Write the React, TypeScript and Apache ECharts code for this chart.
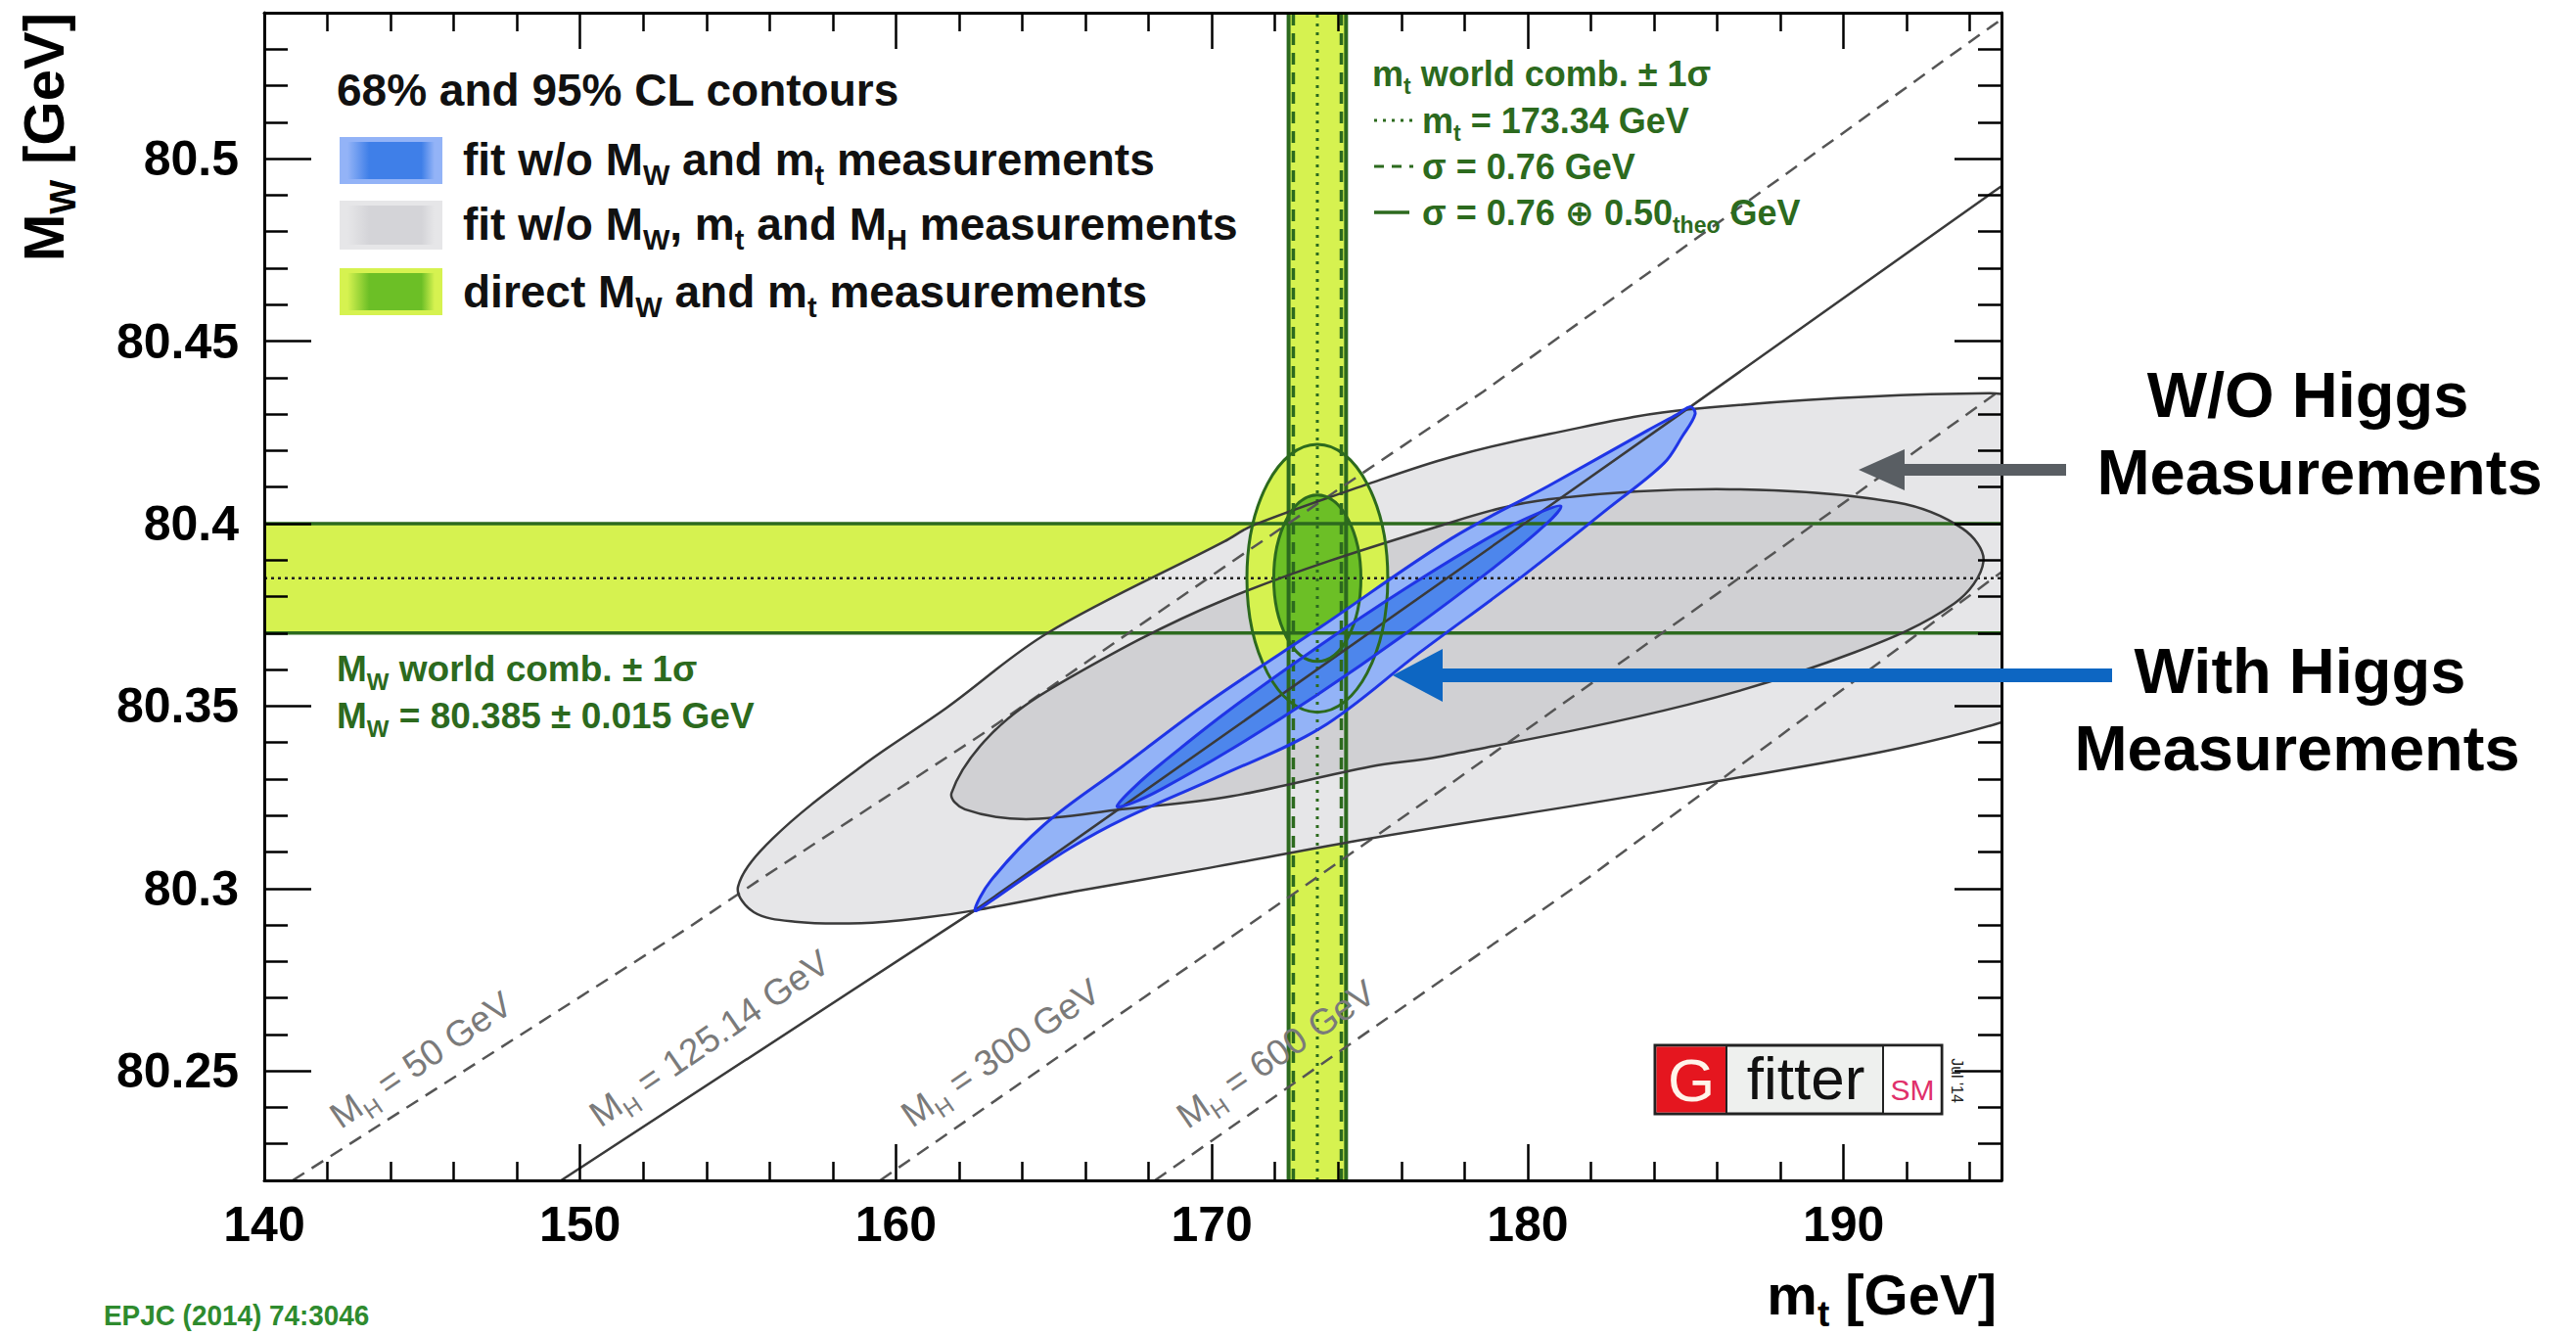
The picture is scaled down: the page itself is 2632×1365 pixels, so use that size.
import React, { useEffect, useRef } from "react";
import * as echarts from "echarts";

const FONT = "'Liberation Sans', Arial, Helvetica, 'DejaVu Sans', sans-serif";

// ---------------- axes ----------------
const X_RANGE = [140, 195];
const Y_RANGE = [80.22, 80.54];
const X_MAJOR = [140, 150, 160, 170, 180, 190];
const X_MINOR = [142, 144, 146, 148, 152, 154, 156, 158, 162, 164, 166, 168, 172, 174, 176, 178, 182, 184, 186, 188, 192, 194];
const Y_MAJOR = [80.25, 80.3, 80.35, 80.4, 80.45, 80.5];
const Y_MINOR = [80.23, 80.24, 80.26, 80.27, 80.28, 80.29, 80.31, 80.32, 80.33, 80.34, 80.36, 80.37, 80.38, 80.39, 80.41, 80.42, 80.43, 80.44, 80.46, 80.47, 80.48, 80.49, 80.51, 80.52, 80.53];

// ---------------- direct measurements ----------------
const MT_CENTRAL = 173.34;
const MT_SIGMA_EXP = 0.76;
const MT_SIGMA_TOT = 0.91;
const MW_CENTRAL = 80.385;
const MW_SIGMA = 0.015;
const GREEN_95_HALF = [2.23, 0.0367];
const GREEN_68_HALF = [1.38, 0.0228];

// ---------------- fit contours (m_t, M_W) ----------------
const GRAY_95 = [
  [155.0, 80.3005], [155.5, 80.2935], [156.8, 80.2909], [158.9, 80.2905], [160.9, 80.292], [162.5, 80.294],
  [165.8, 80.2994], [169.9, 80.3056], [175.0, 80.3137], [185.1, 80.328], [194.8, 80.345],
  [197.0, 80.358], [198.2, 80.386], [197.6, 80.414], [196.0, 80.432],
  [194.6, 80.4357], [185.1, 80.4313], [180.7, 80.4246], [177.6, 80.4183], [175.0, 80.411],
  [171.3, 80.3995], [170.4, 80.3951], [164.8, 80.37], [161.6, 80.3495], [158.9, 80.3334], [156.1, 80.3137],
];
const GRAY_68 = [
  [161.76, 80.3262], [162.18, 80.3217], [164.12, 80.319], [167.16, 80.3217], [170.62, 80.3253], [175.02, 80.3334],
  [177.18, 80.3361], [185.08, 80.3504], [190.35, 80.3647], [193.51, 80.3781], [194.43, 80.3897], [193.77, 80.3986],
  [191.66, 80.4058], [186.4, 80.4094], [180.7, 80.4067], [177.6, 80.4004], [170.37, 80.379], [165.09, 80.3557],
  [163.01, 80.3423],
];
const BLUE_95 = [
  [162.5, 80.294], [163.0, 80.3021], [164.67, 80.3173], [167.16, 80.3334], [169.93, 80.3513], [173.47, 80.3718],
  [177.6, 80.396], [180.7, 80.4105], [183.79, 80.4255], [184.75, 80.43], [185.15, 80.432],
  [185.3, 80.43], [184.9, 80.424], [184.31, 80.4165], [182.6, 80.4045], [179.75, 80.385], [176.57, 80.3646],
  [173.47, 80.3441], [170.3, 80.331], [167.2, 80.319], [165.5, 80.311], [164.0, 80.3025], [163.0, 80.2965],
];
const BLUE_68 = [
  [167.0, 80.3225], [167.6, 80.3282], [168.4, 80.3342], [170.51, 80.3486], [173.32, 80.366], [176.13, 80.3822],
  [178.94, 80.397], [180.35, 80.4029], [181.05, 80.4048],
  [180.6, 80.4], [178.94, 80.388], [176.13, 80.3698], [173.32, 80.353], [170.51, 80.3376], [168.4, 80.3272], [167.5, 80.3235],
];

// ---------------- SM lines of constant M_H ----------------
const MH_50 = [[140.9, 80.22], [153.33, 80.2887], [155.77, 80.3029], [162.73, 80.3423], [170.68, 80.3898], [174.92, 80.4147], [178.6, 80.4362], [194.54, 80.5354], [195.3, 80.54]];
const MH_125 = [[149.4, 80.22], [162.5, 80.294], [185.15, 80.432], [194.56, 80.4898], [195.2, 80.4937]];
const MH_300 = [[159.5, 80.22], [172.28, 80.2967], [177.59, 80.3289], [185.86, 80.3799], [195.2, 80.438]];
const MH_600 = [[168.2, 80.22], [181.93, 80.303], [195.2, 80.388]];
const MH_LABELS = [
  { text: "M_{H} = 50 GeV", at: [144.96, 80.253] },
  { text: "M_{H} = 125.14 GeV", at: [154.1, 80.2589] },
  { text: "M_{H} = 300 GeV", at: [163.31, 80.2549] },
  { text: "M_{H} = 600 GeV", at: [172.03, 80.2546] },
];

// ---------------- colours ----------------
const YELLOW = "#d6f250";
const GREEN68 = "#6cbf26";
const DKGREEN = "#2c6a1e";
const GRAY95_C = "#e6e6e8";
const GRAY68_C = "#d0d0d3";
const BLUE95_C = "#93b3f7";
const BLUE68_C = "#4d86ec";
const BLUE_LINE = "#1f35e6";
const GRAY_LINE = "#3a3a3a";
const MH_COLOR = "#555555";

function toRich(s: string) {
  const re = /_\{([^}]*)\}/g;
  let out = "";
  let last = 0;
  let m: any;
  while ((m = re.exec(s))) {
    if (m.index > last) out += `{n|${s.slice(last, m.index)}}`;
    out += `{s|${m[1]}}`;
    last = re.lastIndex;
  }
  if (last < s.length) out += `{n|${s.slice(last)}}`;
  return out;
}

function richStyles(fs: number, color: string, weight: string) {
  const sfs = Math.round(fs * 0.64);
  return {
    n: { fontSize: fs, fontWeight: weight, fontFamily: FONT, fill: color, color },
    s: { fontSize: sfs, fontWeight: weight, fontFamily: FONT, fill: color, color, padding: [Math.round(fs * 0.7), 0, 0, 0], lineHeight: 4 },
  };
}

function T(x: number, y: number, s: string, fs: number, color: string, opt: any = {}) {
  const weight = opt.weight || "bold";
  const align = opt.align || "left";
  return {
    type: "text",
    x,
    y,
    z: 100,
    silent: true,
    rotation: opt.rotation || 0,
    scaleX: opt.scaleX || 1,
    scaleY: opt.scaleY || 1,
    style: {
      text: toRich(s),
      rich: richStyles(fs, color, weight),
      fill: color,
      fontSize: fs,
      fontFamily: FONT,
      fontWeight: weight,
      align,
      verticalAlign: "middle",
      textAlign: align,
      textVerticalAlign: "middle",
    },
  };
}

function L(x1: number, y1: number, x2: number, y2: number, color: string, w: number, dash?: number[]) {
  return {
    type: "line",
    z: 100,
    silent: true,
    shape: { x1, y1, x2, y2 },
    style: { stroke: color, lineWidth: w, lineDash: dash || null },
  };
}

function R(x: number, y: number, w: number, h: number, fill: any, stroke?: string, lw?: number) {
  return {
    type: "rect",
    z: 100,
    silent: true,
    shape: { x, y, width: w, height: h },
    style: { fill, stroke: stroke || "none", lineWidth: lw || 0 },
  };
}

function polySeries(id: string, pts: number[][], style: any, z: number) {
  return {
    type: "custom",
    id,
    z,
    clip: true,
    silent: true,
    coordinateSystem: "cartesian2d",
    data: pts,
    encode: { x: 0, y: 1 },
    renderItem: (params: any, api: any) => {
      if (params.dataIndex !== 0) return null;
      const points = pts.map((p) => api.coord(p));
      return { type: "polygon", shape: { points, smooth: 0.35 }, style };
    },
  };
}

function ellipseSeries(id: string, styles: any[], z: number) {
  const data = [
    [MT_CENTRAL, MW_CENTRAL, GREEN_95_HALF[0], GREEN_95_HALF[1]],
    [MT_CENTRAL, MW_CENTRAL, GREEN_68_HALF[0], GREEN_68_HALF[1]],
  ];
  return {
    type: "custom",
    id,
    z,
    clip: true,
    silent: true,
    coordinateSystem: "cartesian2d",
    data,
    encode: { x: 0, y: 1 },
    renderItem: (params: any, api: any) => {
      const c = api.coord([api.value(0), api.value(1)]);
      const s = api.size([api.value(2), api.value(3)]);
      return { type: "ellipse", shape: { cx: c[0], cy: c[1], rx: s[0], ry: s[1] }, style: styles[params.dataIndex] };
    },
  };
}

function buildOption() {
  const solidG = { stroke: DKGREEN, lineWidth: 4, fill: "none" };
  const dashG = { stroke: DKGREEN, lineWidth: 3.5, lineDash: [12, 8], fill: "none" };
  const dotG = { stroke: DKGREEN, lineWidth: 3, lineDash: [3, 6], fill: "none" };
  const dotK = { stroke: "#222", lineWidth: 2.5, lineDash: [3, 4], fill: "none" };
  const mhDash = { stroke: MH_COLOR, lineWidth: 2.5, lineDash: [14, 9], fill: "none" };
  const mhSolid = { stroke: "#3a3a3a", lineWidth: 2.5, fill: "none" };

  const LINES: { pts: number[][]; style: any }[] = [
    { pts: [[X_RANGE[0], MW_CENTRAL - MW_SIGMA], [X_RANGE[1], MW_CENTRAL - MW_SIGMA]], style: { ...solidG, lineWidth: 3.5 } },
    { pts: [[X_RANGE[0], MW_CENTRAL + MW_SIGMA], [X_RANGE[1], MW_CENTRAL + MW_SIGMA]], style: { ...solidG, lineWidth: 3.5 } },
    { pts: [[X_RANGE[0], MW_CENTRAL], [X_RANGE[1], MW_CENTRAL]], style: dotK },
    { pts: [[MT_CENTRAL - MT_SIGMA_TOT, Y_RANGE[0]], [MT_CENTRAL - MT_SIGMA_TOT, Y_RANGE[1]]], style: solidG },
    { pts: [[MT_CENTRAL + MT_SIGMA_TOT, Y_RANGE[0]], [MT_CENTRAL + MT_SIGMA_TOT, Y_RANGE[1]]], style: solidG },
    { pts: [[MT_CENTRAL - MT_SIGMA_EXP, Y_RANGE[0]], [MT_CENTRAL - MT_SIGMA_EXP, Y_RANGE[1]]], style: dashG },
    { pts: [[MT_CENTRAL + MT_SIGMA_EXP, Y_RANGE[0]], [MT_CENTRAL + MT_SIGMA_EXP, Y_RANGE[1]]], style: dashG },
    { pts: [[MT_CENTRAL, Y_RANGE[0]], [MT_CENTRAL, Y_RANGE[1]]], style: dotG },
    { pts: MH_50, style: mhDash },
    { pts: MH_125, style: mhSolid },
    { pts: MH_300, style: mhDash },
    { pts: MH_600, style: mhDash },
  ];

  const bandSeries = {
    type: "custom",
    id: "bands",
    z: 1,
    clip: true,
    silent: true,
    coordinateSystem: "cartesian2d",
    data: [
      [X_RANGE[0], MW_CENTRAL - MW_SIGMA, X_RANGE[1], MW_CENTRAL + MW_SIGMA],
      [MT_CENTRAL - MT_SIGMA_TOT, Y_RANGE[0], MT_CENTRAL + MT_SIGMA_TOT, Y_RANGE[1]],
    ],
    encode: { x: [0, 2], y: [1, 3] },
    renderItem: (params: any, api: any) => {
      const a = api.coord([api.value(0), api.value(3)]);
      const b = api.coord([api.value(2), api.value(1)]);
      return { type: "rect", shape: { x: a[0], y: a[1], width: b[0] - a[0], height: b[1] - a[1] }, style: { fill: YELLOW } };
    },
  };

  const linesSeries = {
    type: "custom",
    id: "lines",
    z: 6,
    clip: true,
    silent: true,
    coordinateSystem: "cartesian2d",
    data: LINES.map((l, i) => [l.pts[0][0], l.pts[0][1], i]),
    encode: { x: 0, y: 1 },
    renderItem: (params: any, api: any) => {
      const l = LINES[params.dataIndex];
      return { type: "polyline", shape: { points: l.pts.map((p) => api.coord(p)) }, style: l.style };
    },
  };

  const labelSeries = {
    type: "custom",
    id: "mhlabels",
    z: 9,
    clip: false,
    silent: true,
    coordinateSystem: "cartesian2d",
    data: MH_LABELS.map((l) => [l.at[0], l.at[1]]),
    encode: { x: 0, y: 1 },
    renderItem: (params: any, api: any) => {
      const l = MH_LABELS[params.dataIndex];
      const c = api.coord([api.value(0), api.value(1)]);
      return {
        type: "text",
        x: c[0],
        y: c[1],
        rotation: (34.5 * Math.PI) / 180,
        style: {
          text: toRich(l.text),
          rich: richStyles(37, "#7a7a7a", "normal"),
          fill: "#7a7a7a",
          fontSize: 37,
          fontFamily: FONT,
          align: "center",
          verticalAlign: "middle",
          textAlign: "center",
          textVerticalAlign: "middle",
        },
      };
    },
  };

  const axisLineStyle = { color: "#000", width: 3 };
  const tickStyle = { color: "#000", width: 2.5 };
  const mkX = (position: string, values: number[], len: number, labels: boolean, line: boolean) => ({
    type: "value",
    min: X_RANGE[0],
    max: X_RANGE[1],
    position,
    z: 10,
    axisLine: { show: line, onZero: false, lineStyle: axisLineStyle },
    axisTick: { show: true, inside: true, length: len, lineStyle: tickStyle, customValues: values },
    axisLabel: labels
      ? { show: true, customValues: values, fontSize: 50, fontWeight: "bold", fontFamily: FONT, color: "#000", margin: 20, formatter: (v: number) => String(v) }
      : { show: false },
    splitLine: { show: false },
    axisPointer: { show: false },
  });
  const mkY = (position: string, values: number[], len: number, labels: boolean, line: boolean) => ({
    type: "value",
    min: Y_RANGE[0],
    max: Y_RANGE[1],
    position,
    z: 10,
    axisLine: { show: line, onZero: false, lineStyle: axisLineStyle },
    axisTick: { show: true, inside: true, length: len, lineStyle: tickStyle, customValues: values },
    axisLabel: labels
      ? {
          show: true,
          customValues: values,
          fontSize: 50,
          fontWeight: "bold",
          fontFamily: FONT,
          color: "#000",
          margin: 26,
          formatter: (v: number) => String(Math.round(v * 100) / 100),
        }
      : { show: false },
    splitLine: { show: false },
    axisPointer: { show: false },
  });

  const hGrad = (edge: string, mid: string) => ({
    type: "linear",
    x: 0,
    y: 0,
    x2: 1,
    y2: 0,
    colorStops: [
      { offset: 0, color: edge },
      { offset: 0.25, color: mid },
      { offset: 0.85, color: mid },
      { offset: 1, color: edge },
    ],
  });
  const swatch = (x: number, y: number, w: number, h: number, outer: string, inner: string) => [
    R(x, y, w, h, outer),
    R(x + 8, y + 5, w - 16, h - 10, hGrad(outer, inner)),
  ];

  const graphics: any[] = [
    // main legend
    T(344, 92, "68% and 95% CL contours", 46, "#111"),
    ...swatch(347, 140, 105, 48, BLUE95_C, "#3f7fe8"),
    ...swatch(347, 205, 105, 50, GRAY95_C, "#d4d4d8"),
    ...swatch(347, 274, 105, 48, YELLOW, GREEN68),
    T(473, 163, "fit w/o M_{W} and m_{t} measurements", 46, "#111"),
    T(473, 229, "fit w/o M_{W}, m_{t} and M_{H} measurements", 46, "#111"),
    T(473, 298, "direct M_{W} and m_{t} measurements", 46, "#111"),
    // m_t legend
    T(1402, 75, "m_{t} world comb. ± 1σ", 36, DKGREEN),
    L(1404, 123, 1444, 123, DKGREEN, 3, [3, 6]),
    T(1453, 123, "m_{t} = 173.34 GeV", 36, DKGREEN),
    L(1404, 170, 1444, 170, DKGREEN, 3, [10, 8]),
    T(1453, 170, "σ = 0.76 GeV", 36, DKGREEN),
    L(1404, 217, 1440, 217, DKGREEN, 3.5),
    T(1453, 217, "σ = 0.76 ⊕ 0.50_{theo} GeV", 36, DKGREEN),
    // M_W legend
    T(344, 683, "M_{W} world comb. ± 1σ", 37, DKGREEN),
    T(344, 731, "M_{W} = 80.385 ± 0.015 GeV", 37, DKGREEN),
    // axis titles
    T(44, 13, "M_{W} [GeV]", 58, "#000", { rotation: Math.PI / 2, align: "right" }),
    T(2040, 1322, "m_{t} [GeV]", 58, "#000", { align: "right" }),
    // Gfitter logo
    R(1691, 1068, 293, 70, "#eef0ee", "#222", 3),
    R(1692.5, 1069.5, 72, 67, "#e5161f"),
    L(1764, 1068, 1764, 1138, "#222", 2),
    L(1924, 1068, 1924, 1138, "#222", 2),
    R(1925, 1069.5, 57.5, 67, "#ffffff"),
    T(1728, 1103, "G", 62, "#fff4ea", { align: "center", weight: "normal" }),
    T(1845, 1101, "fitter", 62, "#111", { align: "center", weight: "normal" }),
    T(1954, 1113, "SM", 30, "#e0306a", { align: "center", weight: "normal" }),
    T(1999, 1104, "Jul '14", 16, "#222", { align: "center", weight: "normal", rotation: -Math.PI / 2 }),
    // annotations
    {
      type: "polygon",
      z: 100,
      silent: true,
      shape: { points: [[1899, 480], [1946, 459], [1946, 474], [2111, 474], [2111, 486], [1946, 486], [1946, 501]] },
      style: { fill: "#595e63" },
    },
    {
      type: "polygon",
      z: 100,
      silent: true,
      shape: { points: [[1423, 690], [1474, 663], [1474, 683], [2158, 683], [2158, 697], [1474, 697], [1474, 717]] },
      style: { fill: "#0d66c2" },
    },
    T(2358, 403, "W/O Higgs", 65, "#000", { align: "center" }),
    T(2370, 482, "Measurements", 65, "#000", { align: "center" }),
    T(2350, 685, "With Higgs", 65, "#000", { align: "center" }),
    T(2347, 764, "Measurements", 65, "#000", { align: "center" }),
    T(106, 1344, "EPJC (2014) 74:3046", 30, "#2e8b2e", { scaleX: 0.93 }),
  ];

  return {
    animation: false,
    backgroundColor: "#ffffff",
    textStyle: { fontFamily: FONT },
    grid: { left: 270, top: 13, width: 1775, height: 1193, containLabel: false, outerBoundsMode: "none", show: false },
    xAxis: [
      mkX("bottom", X_MAJOR, 37, true, true),
      mkX("bottom", X_MINOR, 19, false, false),
      mkX("top", X_MAJOR, 37, false, true),
      mkX("top", X_MINOR, 19, false, false),
    ],
    yAxis: [
      mkY("left", Y_MAJOR, 48, true, true),
      mkY("left", Y_MINOR, 24, false, false),
      mkY("right", Y_MAJOR, 48, false, true),
      mkY("right", Y_MINOR, 24, false, false),
    ],
    series: [
      bandSeries,
      polySeries("gray95", GRAY_95, { fill: GRAY95_C, stroke: "none" }, 2),
      polySeries("gray68", GRAY_68, { fill: GRAY68_C, stroke: "none" }, 3),
      ellipseSeries("greenFill", [{ fill: YELLOW, stroke: "none" }, { fill: GREEN68, stroke: "none" }], 4),
      polySeries("blue95", BLUE_95, { fill: BLUE95_C, stroke: "none" }, 5),
      polySeries("blue68", BLUE_68, { fill: BLUE68_C, stroke: "none" }, 5.5),
      linesSeries,
      polySeries("gray95s", GRAY_95, { fill: "none", stroke: GRAY_LINE, lineWidth: 2.5 }, 7),
      polySeries("gray68s", GRAY_68, { fill: "none", stroke: GRAY_LINE, lineWidth: 2.5 }, 7),
      ellipseSeries("greenLine", [{ fill: "none", stroke: DKGREEN, lineWidth: 3 }, { fill: "none", stroke: DKGREEN, lineWidth: 3 }], 7.5),
      polySeries("blue95s", BLUE_95, { fill: "none", stroke: BLUE_LINE, lineWidth: 3 }, 8),
      polySeries("blue68s", BLUE_68, { fill: "none", stroke: BLUE_LINE, lineWidth: 3 }, 8),
      labelSeries,
    ],
    graphic: { elements: graphics },
  };
}

export default function App() {
  const ref = useRef<HTMLDivElement>(null);
  useEffect(() => {
    document.body.style.margin = "0";
    const chart = echarts.init(ref.current as HTMLDivElement, null, { renderer: "svg" });
    chart.setOption(buildOption() as any);
    return () => chart.dispose();
  }, []);
  return <div ref={ref} style={{ width: 2632, height: 1365, background: "#fff" }} />;
}
